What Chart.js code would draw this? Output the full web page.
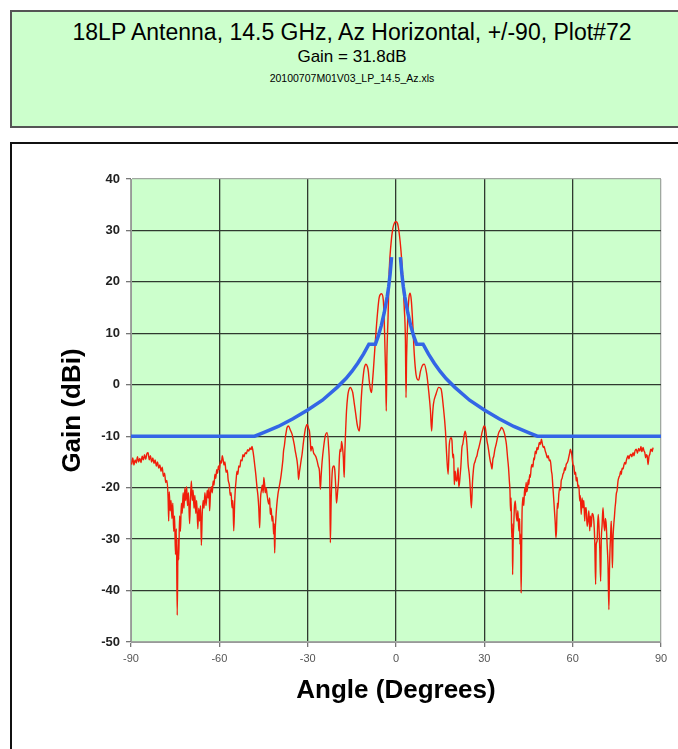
<!DOCTYPE html>
<html>
<head>
<meta charset="utf-8">
<script src="https://cdn.jsdelivr.net/npm/chart.js@4.4.0/dist/chart.umd.min.js"></script>
<style>
    body { margin: 0; background: #fff; font-family: "Liberation Sans", Arial, sans-serif; }
    #page { position: relative; width: 678px; height: 749px; overflow: hidden; }
    #titleBox { position: absolute; left: 10px; top: 10px; width: 720px; height: 114px; background: #ccffcc; border: 2px solid #555; }
    .t { position: absolute; left: 0; width: 704px; text-align: center; color: #000; white-space: nowrap; }
    #l1 { top: 19px; font-size: 23px; line-height: 26px; }
    #l2 { top: 47px; font-size: 17px; line-height: 20px; }
    #l3 { top: 72px; font-size: 10.5px; line-height: 12px; }
    #chartBox { position: absolute; left: 10px; top: 142px; width: 720px; height: 660px; border: 2px solid #111; }
    #wrap { position: absolute; left: 12px; top: 144px; width: 666px; height: 605px; }
</style>
</head>
<body>
<div id="page">
    <div id="titleBox"></div>
    <div class="t" id="l1">18LP Antenna, 14.5 GHz, Az Horizontal, +/-90, Plot#72</div>
    <div class="t" id="l2">Gain = 31.8dB</div>
    <div class="t" id="l3">20100707M01V03_LP_14.5_Az.xls</div>
    <div id="chartBox"></div>
    <div id="wrap"><canvas id="patternChart" width="666" height="605"></canvas></div>
</div>
<script>
const angleTicks = [-90, -60, -30, 0, 30, 60, 90];
const gainTicks = [-50, -40, -30, -20, -10, 0, 10, 20, 30, 40];

// measured pattern (red)
const measAngle = [
    -89.8, -89.4, -89.0, -88.6, -88.2, -87.8, -87.4, -87.0, -86.6, -86.2,
    -85.8, -85.4, -85.0, -84.6, -84.2, -83.8, -83.4, -83.0, -82.6, -82.2,
    -81.8, -81.4, -81.0, -80.6, -80.2, -79.8, -79.4, -79.0, -78.6, -78.2,
    -77.8, -77.4, -77.2, -77.0, -76.7, -76.4, -76.1, -75.8, -75.5, -75.2,
    -74.9, -74.6, -74.3, -74.0, -73.8, -73.5, -73.2, -72.9, -72.6, -72.3,
    -72.0, -71.7, -71.4, -71.1, -70.8, -70.5, -70.1, -69.8, -69.5, -69.2,
    -68.9, -68.6, -68.3, -68.0, -67.7, -67.3, -67.0, -66.7, -66.4, -66.1,
    -65.8, -65.5, -65.2, -64.9, -64.5, -64.1, -63.8, -63.5, -63.3, -63.0,
    -62.7, -62.4, -62.1, -61.8, -61.5, -61.2, -60.9, -60.6, -60.3, -60.0,
    -59.6, -59.3, -59.0, -58.7, -58.4, -58.1, -57.7, -57.3, -57.0, -56.6,
    -56.3, -56.0, -55.7, -55.4, -55.1, -54.8, -54.6, -54.3, -54.0, -53.7,
    -53.4, -53.0, -52.7, -52.3, -52.0, -51.6, -51.2, -50.8, -50.4, -50.0,
    -49.6, -49.2, -48.9, -48.6, -48.3, -48.0, -47.6, -47.2, -46.9, -46.6,
    -46.3, -46.0, -45.7, -45.4, -45.1, -44.9, -44.6, -44.4, -44.1, -43.8,
    -43.5, -43.2, -42.9, -42.7, -42.4, -42.1, -41.8, -41.6, -41.4, -41.2,
    -41.0, -40.8, -40.5, -40.1, -39.7, -39.3, -39.0, -38.7, -38.4, -38.2,
    -37.9, -37.6, -37.3, -37.0, -36.5, -35.9, -35.3, -34.8, -34.5, -34.2,
    -33.9, -33.6, -33.3, -33.1, -32.8, -32.5, -32.2, -31.9, -31.4, -30.8,
    -30.4, -30.1, -29.7, -29.4, -29.1, -28.9, -28.6, -28.3, -28.0, -27.6,
    -27.2, -26.8, -26.4, -26.0, -25.7, -25.4, -25.1, -24.6, -24.0, -23.4,
    -22.9, -22.5, -22.3, -22.0, -21.5, -21.1, -20.8, -20.4, -20.2, -19.8,
    -19.5, -19.2, -19.0, -18.7, -18.5, -18.2, -17.9, -17.6, -17.4, -17.2,
    -16.8, -16.4, -16.1, -15.5, -15.0, -14.7, -14.2, -13.6, -13.1, -12.5,
    -12.2, -11.9, -11.6, -11.3, -10.8, -10.2, -9.7, -9.4, -9.1, -8.6,
    -8.3, -8.0, -7.7, -7.0, -6.3, -5.7, -4.9, -4.3, -3.9, -3.5,
    -3.3, -3.1, -2.7, -2.3, -1.7, -1.1, -0.5, 0.0, 0.5, 1.1,
    1.7, 2.3, 2.8, 3.2, 3.4, 3.6, 4.0, 4.4, 4.8, 5.2,
    5.7, 6.2, 6.8, 7.3, 7.7, 8.3, 9.0, 9.6, 10.4, 11.1,
    11.7, 12.1, 12.4, 12.7, 13.6, 14.5, 15.3, 16.1, 16.8, 17.2,
    17.7, 18.1, 18.7, 19.0, 19.3, 19.6, 19.8, 20.1, 20.4, 20.7,
    20.9, 21.1, 21.3, 21.5, 21.8, 22.0, 22.4, 22.7, 23.0, 23.5,
    23.9, 24.2, 24.5, 24.9, 25.2, 25.6, 26.0, 26.3, 26.5, 26.8,
    27.2, 27.5, 27.8, 28.1, 28.4, 28.8, 29.2, 29.6, 29.9, 30.3,
    30.6, 30.9, 31.2, 31.5, 32.0, 32.3, 32.6, 32.9, 33.2, 33.6,
    34.0, 34.5, 34.9, 35.4, 35.8, 36.3, 36.9, 37.2, 37.5, 37.9,
    38.2, 38.5, 38.7, 38.9, 39.1, 39.3, 39.5, 39.6, 39.8, 40.0,
    40.2, 40.5, 40.8, 41.1, 41.4, 41.7, 42.0, 42.1, 42.3, 42.5,
    42.7, 42.8, 43.1, 43.4, 43.7, 43.9, 44.2, 44.4, 44.6, 44.9,
    45.1, 45.4, 45.6, 45.9, 46.2, 46.5, 46.8, 47.0, 47.3, 47.6,
    47.9, 48.2, 48.7, 49.0, 49.4, 49.7, 50.0, 50.3, 50.7, 51.0,
    51.4, 51.7, 52.1, 52.4, 52.8, 53.0, 53.3, 53.6, 53.9, 54.1,
    54.3, 54.5, 54.8, 55.0, 55.3, 55.6, 55.9, 56.1, 56.4, 56.7,
    57.0, 57.3, 57.5, 57.8, 58.1, 58.4, 58.7, 59.0, 59.2, 59.5,
    59.7, 60.1, 60.4, 60.7, 61.0, 61.2, 61.5, 61.8, 62.1, 62.4,
    62.6, 62.9, 63.2, 63.5, 63.8, 64.1, 64.3, 64.6, 64.9, 65.2,
    65.5, 65.8, 66.0, 66.3, 66.6, 66.9, 67.2, 67.5, 67.8, 68.0,
    68.3, 68.5, 68.7, 69.0, 69.2, 69.5, 69.7, 70.0, 70.3, 70.6,
    70.9, 71.1, 71.4, 71.7, 72.0, 72.3, 72.5, 72.7, 72.9, 73.1,
    73.3, 73.5, 73.7, 73.9, 74.2, 74.4, 74.6, 74.8, 75.1, 75.4,
    75.7, 76.0, 76.3, 76.5, 76.8, 77.1, 77.4, 77.7, 78.0, 78.2,
    78.5, 78.8, 79.1, 79.4, 79.8, 80.1, 80.5, 80.8, 81.2, 81.6,
    82.0, 82.4, 82.8, 83.2, 83.5, 83.9, 84.2, 84.5, 84.8, 85.0,
    85.3, 85.6, 85.9, 86.2, 86.5, 86.7, 87.0, 87.3
];
const measGain = [
    -15.5, -14.2, -15.6, -14.6, -15.2, -14.0, -15.0, -14.3, -15.1, -13.9,
    -14.6, -13.6, -14.5, -13.4, -13.2, -14.6, -13.8, -15.0, -14.2, -15.3,
    -14.6, -15.8, -15.0, -16.2, -15.6, -16.8, -16.0, -17.8, -17.2, -19.0,
    -18.6, -22.0, -26.5, -20.8, -24.5, -22.5, -26.0, -23.0, -28.5, -25.5,
    -33.0, -28.0, -44.8, -30.0, -34.0, -25.5, -28.5, -23.0, -25.0, -21.0,
    -24.0, -20.0, -22.5, -19.8, -23.5, -21.0, -27.0, -22.0, -18.7, -22.5,
    -20.5, -24.0, -21.5, -25.0, -22.5, -28.0, -24.0, -26.5, -23.5, -31.2,
    -25.0, -22.5, -24.0, -21.0, -23.5, -20.5, -22.0, -20.0, -24.5, -21.0,
    -19.8, -21.0, -18.7, -19.5, -17.4, -18.2, -16.5, -17.2, -15.8, -16.5,
    -14.8, -15.2, -13.8, -14.6, -15.6, -15.0, -17.0, -16.6, -18.5, -19.5,
    -21.5, -21.0, -23.9, -22.5, -28.4, -23.0, -20.6, -18.5, -16.8, -17.4,
    -15.8, -16.0, -14.6, -14.8, -13.6, -14.0, -13.2, -13.4, -12.6, -12.9,
    -12.3, -12.6, -12.0, -12.8, -14.0, -15.5, -17.5, -20.0, -21.5, -24.0,
    -27.8, -22.0, -20.5, -19.5, -21.0, -18.0, -19.5, -21.0, -20.0, -21.3,
    -22.5, -23.2, -22.0, -25.2, -24.0, -26.5, -25.5, -29.0, -27.0, -32.7,
    -28.0, -26.0, -23.5, -21.3, -20.0, -18.7, -17.5, -16.1, -14.5, -12.9,
    -11.8, -10.3, -9.2, -8.3, -8.0, -8.8, -9.6, -10.9, -11.8, -12.9,
    -13.8, -14.8, -16.5, -18.4, -17.0, -15.8, -14.6, -13.5, -11.0, -8.6,
    -7.9, -7.7, -8.5, -9.0, -11.0, -12.9, -12.0, -12.3, -13.2, -13.6,
    -14.0, -14.8, -15.8, -16.8, -20.3, -17.5, -15.0, -12.2, -9.9, -9.3,
    -12.0, -18.5, -30.7, -22.0, -16.1, -15.8, -16.5, -20.6, -23.0, -20.6,
    -18.5, -14.0, -12.5, -13.0, -11.0, -12.0, -14.0, -18.0, -13.5, -10.3,
    -5.0, -2.2, -1.2, -0.5, -1.0, -1.5, -3.5, -6.0, -8.0, -9.0,
    -7.5, -3.8, -1.0, 0.8, 3.2, 4.0, 3.5, 2.6, 0.8, -1.2,
    -1.5, 0.5, 2.7, 8.6, 13.8, 17.0, 17.7, 16.4, 10.5, 1.5,
    -5.1, 5.3, 13.1, 22.2, 27.4, 30.3, 31.5, 31.7, 31.4, 29.4,
    26.0, 20.9, 15.0, 8.6, -2.5, 5.3, 13.1, 17.0, 17.8, 16.4,
    11.8, 6.0, 2.0, 1.0, 0.9, 2.6, 3.8, 4.0, 2.2, -1.2,
    -5.0, -9.0, -6.0, -3.8, -1.8, -0.5, -0.8, -4.4, -9.0, -13.5,
    -17.4, -11.6, -10.3, -10.8, -14.2, -13.5, -19.4, -16.8, -18.5, -18.7,
    -17.0, -16.1, -19.8, -19.4, -17.5, -16.1, -12.2, -11.5, -10.3, -9.0,
    -10.3, -12.5, -15.5, -17.5, -20.0, -23.9, -18.7, -16.5, -15.5, -15.0,
    -14.2, -13.8, -12.9, -12.3, -11.6, -10.5, -9.3, -8.5, -8.0, -8.3,
    -9.5, -10.9, -11.8, -12.9, -14.8, -15.5, -16.4, -14.5, -13.9, -12.5,
    -11.6, -10.2, -9.3, -8.8, -8.3, -8.6, -9.6, -10.5, -11.6, -14.2,
    -16.0, -18.7, -20.5, -24.5, -22.0, -29.7, -27.0, -36.9, -30.0, -27.2,
    -24.0, -22.6, -25.0, -26.5, -24.5, -28.4, -26.0, -31.0, -29.0, -40.5,
    -30.0, -25.2, -21.9, -23.5, -20.0, -21.5, -19.0, -20.8, -20.4, -18.5,
    -19.4, -17.5, -18.0, -16.2, -15.5, -16.0, -14.2, -14.6, -12.9, -13.4,
    -12.2, -12.6, -11.2, -11.6, -10.6, -11.5, -12.2, -12.0, -12.9, -13.4,
    -14.2, -13.8, -14.8, -14.6, -16.8, -17.5, -20.0, -22.5, -25.2, -27.0,
    -29.7, -28.4, -23.0, -24.0, -21.3, -20.0, -20.5, -18.7, -18.2, -17.4,
    -17.0, -16.1, -16.6, -15.5, -15.2, -14.8, -14.0, -13.2, -12.5, -13.0,
    -13.6, -15.5, -15.8, -17.4, -17.0, -18.7, -18.0, -20.0, -19.5, -22.6,
    -21.5, -25.2, -22.0, -23.9, -22.5, -26.5, -24.0, -23.9, -27.5, -26.5,
    -24.5, -28.4, -25.5, -27.6, -25.0, -25.2, -26.5, -30.4, -38.8, -31.0,
    -30.4, -27.0, -25.2, -28.5, -31.7, -38.2, -30.5, -27.2, -23.9, -27.0,
    -28.4, -26.0, -27.2, -31.0, -34.9, -43.7, -36.0, -31.7, -29.0, -26.5,
    -30.5, -35.6, -30.0, -27.7, -25.5, -23.9, -22.8, -21.3, -20.5, -18.7,
    -18.0, -17.6, -16.8, -17.4, -16.2, -16.4, -15.6, -15.1, -15.4, -14.8,
    -14.2, -13.8, -14.4, -13.8, -13.5, -14.0, -13.2, -13.8, -12.8, -12.5,
    -13.3, -12.4, -12.9, -12.0, -13.0, -12.2, -12.8, -13.2, -14.2, -13.6,
    -13.8, -15.5, -14.0, -13.5, -12.6, -12.5, -13.0, -12.2
];

// limit mask (blue), gap at boresight
const maskAngle = [-90, -48, -45, -40, -35, -30, -25, -20, -17, -15, -13, -11, -9.2, -7, -6, -5, -4, -3, -2.5, -2, -1.5,
    0, 1.5, 2, 2.5, 3, 4, 5, 6, 7, 9.2, 11, 13, 15, 17, 20, 25, 30, 35, 40, 45, 48, 90];
const maskGain = [-10, -10, -9.3, -8.1, -6.6, -4.9, -3, -0.5, 1.2, 2.6, 4.2, 6, 7.9, 7.9, 9.5, 11.5, 14, 17.1, 19, 21.5, 24.8,
    null, 24.8, 21.5, 19, 17.1, 14, 11.5, 9.5, 7.9, 7.9, 6, 4.2, 2.6, 1.2, -0.5, -3, -4.9, -6.6, -8.1, -9.3, -10, -10];

const plotBackground = {
    id: 'plotBackground',
    beforeDraw(chart) {
        const { ctx, chartArea: a } = chart;
        ctx.save();
        ctx.fillStyle = '#ccffcc';
        ctx.fillRect(a.left, a.top, a.width, a.height);
        ctx.restore();
    }
};

function gridColor(lo, hi) {
    return c => (c.tick && (c.tick.value === lo || c.tick.value === hi)) ? '#a0a8a0' : '#2f3a2f';
}

new Chart(document.getElementById('patternChart').getContext('2d'), {
    type: 'scatter',
    data: {
        datasets: [{
            label: 'Mask',
            data: maskAngle.map((a, i) => ({ x: a, y: maskGain[i] })),
            showLine: true,
            spanGaps: false,
            borderColor: '#3366e6',
            borderWidth: 3.5,
            pointRadius: 0,
            order: 0
        }, {
            label: 'Measured',
            data: measAngle.map((a, i) => ({ x: a, y: measGain[i] })),
            showLine: true,
            borderColor: '#f01e0a',
            borderWidth: 1.4,
            pointRadius: 0,
            cubicInterpolationMode: 'monotone',
            order: 1
        }]
    },
    options: {
        responsive: false,
        animation: false,
        layout: { padding: { top: 35, right: 17, left: 0, bottom: 0 } },
        plugins: {
            legend: { display: false },
            tooltip: { enabled: false }
        },
        scales: {
            x: {
                type: 'linear',
                min: -90,
                max: 90,
                afterBuildTicks: s => { s.ticks = angleTicks.map(v => ({ value: v })); },
                afterFit: s => { s.height = 107; },
                grid: { color: gridColor(-90, 90), lineWidth: 1.3, tickLength: 5, tickColor: '#777' },
                border: { display: true, color: '#999', width: 1 },
                ticks: { color: '#555', font: { family: 'Liberation Sans', size: 11 }, padding: 5, maxRotation: 0 },
                title: {
                    display: true,
                    text: 'Angle (Degrees)',
                    color: '#000',
                    font: { family: 'Liberation Sans', size: 26, weight: 'bold' },
                    padding: { top: 0, bottom: 43 }
                }
            },
            y: {
                min: -50,
                max: 40,
                afterBuildTicks: s => { s.ticks = gainTicks.map(v => ({ value: v })); },
                afterFit: s => { s.width = 119; },
                grid: { color: gridColor(-50, 40), lineWidth: 1.3, tickLength: 5, tickColor: '#777' },
                border: { display: true, color: '#999', width: 1 },
                ticks: { color: '#222', font: { family: 'Liberation Sans', size: 13, weight: 'bold' }, padding: 6 },
                title: {
                    display: true,
                    text: 'Gain (dBi)',
                    color: '#000',
                    font: { family: 'Liberation Sans', size: 26, weight: 'bold' },
                    padding: { top: 45, bottom: 0 }
                }
            }
        }
    },
    plugins: [plotBackground]
});
</script>
</body>
</html>
